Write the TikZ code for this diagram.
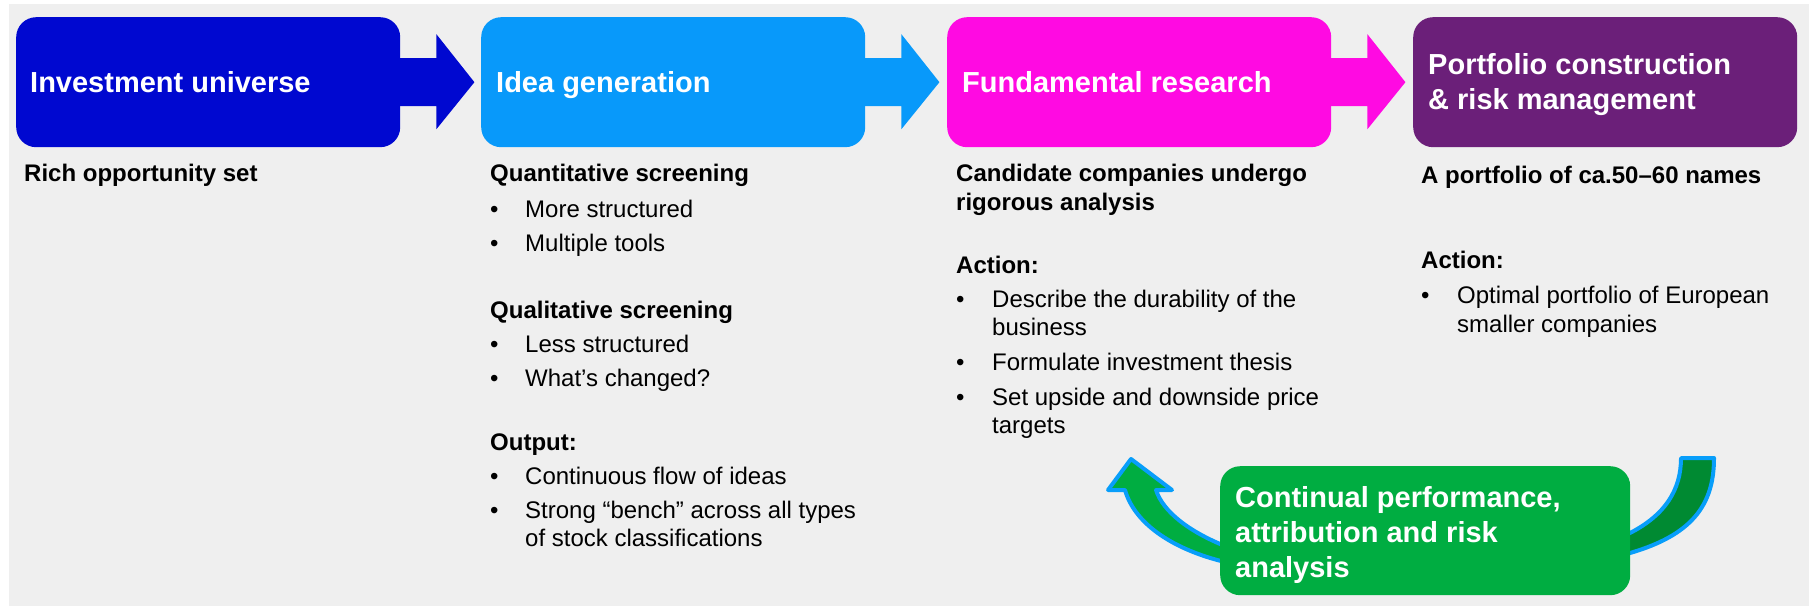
\documentclass[tikz,border=0pt]{standalone}
\usepackage{fontspec}
\setmainfont{Liberation Sans}
\definecolor{bgc}{RGB}{239,239,239}
\definecolor{cone}{RGB}{0,8,208}
\definecolor{ctwo}{RGB}{8,153,250}
\definecolor{cthree}{RGB}{255,10,226}
\definecolor{cfour}{RGB}{107,31,121}
\definecolor{cgreen}{RGB}{0,173,65}
\definecolor{cdgreen}{RGB}{0,138,50}
\definecolor{cblue}{RGB}{8,158,250}
\begin{document}
\begin{tikzpicture}[x=1pt,y=-1pt,
  box/.style={anchor=north west, minimum width=384pt, minimum height=130pt, inner sep=0pt, rounded corners=20pt},
  head/.style={anchor=base west, inner sep=0pt, text=white, font=\bfseries\fontsize{29}{35}\selectfont},
  body/.style={anchor=base west, inner sep=0pt, font=\fontsize{24}{28}\selectfont},
  bodyb/.style={anchor=base west, inner sep=0pt, font=\bfseries\fontsize{24}{28}\selectfont},
  curvearrow/.style={draw=cblue, line width=4pt, line join=round}]
\useasboundingbox (0,0) rectangle (1812,607);
\fill[bgc] (9,4) rectangle (1809,606);

% stage boxes
\node[box, fill=cone] (b1) at (16,17) {};
\node[box, fill=ctwo] (b2) at (481,17) {};
\node[box, fill=cthree] (b3) at (947,17) {};
\node[box, fill=cfour] (b4) at (1413,17) {};

% block arrows
\fill[cone, shift={(b1.east)}] (-5,-24) -- (36,-24) -- (36,-48) -- (74,0) -- (36,47) -- (36,24) -- (-5,24) -- cycle;
\fill[ctwo, shift={(b2.east)}] (-5,-24) -- (36,-24) -- (36,-48) -- (74,0) -- (36,47) -- (36,24) -- (-5,24) -- cycle;
\fill[cthree, shift={(b3.east)}] (-5,-24) -- (36,-24) -- (36,-48) -- (74,0) -- (36,47) -- (36,24) -- (-5,24) -- cycle;

% headings
\node[head] (h1) at (30,93) {Investment universe};
\node[head] (h2) at (496,93) {Idea generation};
\node[head] (h3) at (962,93) {Fundamental research};
\node[head] (h4a) at (1428,75) {Portfolio construction};
\node[head] (h4b) at (1428,110) {\& risk management};

% column 1
\node[bodyb] (c1a) at (24,182) {Rich opportunity set};

% column 2
\node[bodyb] (c2a) at (490,182) {Quantitative screening};
\node[body] (c2b1) at (490,217) {•};
\node[body] (c2t1) at (525,217) {More structured};
\node[body] (c2b2) at (490,251) {•};
\node[body] (c2t2) at (525,251) {Multiple tools};
\node[bodyb] (c2c) at (490,318) {Qualitative screening};
\node[body] (c2b3) at (490,352) {•};
\node[body] (c2t3) at (525,352) {Less structured};
\node[body] (c2b4) at (490,386) {•};
\node[body] (c2t4) at (525,386) {What’s changed?};
\node[bodyb] (c2d) at (490,450) {Output:};
\node[body] (c2b5) at (490,484) {•};
\node[body] (c2t5) at (525,484) {Continuous flow of ideas};
\node[body] (c2b6) at (490,518) {•};
\node[body] (c2t6) at (525,518) {Strong “bench” across all types};
\node[body] (c2t7) at (525,546) {of stock classifications};

% column 3
\node[bodyb] (c3a) at (956,182) {Candidate companies undergo};
\node[bodyb] (c3b) at (956,210) {rigorous analysis};
\node[bodyb] (c3c) at (956,273) {Action:};
\node[body] (c3b1) at (956,307) {•};
\node[body] (c3t1) at (992,307) {Describe the durability of the};
\node[body] (c3t2) at (992,335) {business};
\node[body] (c3b2) at (956,370) {•};
\node[body] (c3t3) at (992,370) {Formulate investment thesis};
\node[body] (c3b3) at (956,405) {•};
\node[body] (c3t4) at (992,405) {Set upside and downside price};
\node[body] (c3t5) at (992,433) {targets};

% column 4
\node[bodyb] (c4a) at (1421,183) {A portfolio of ca.50–60 names};
\node[bodyb] (c4b) at (1421,268) {Action:};
\node[body] (c4b1) at (1421,303) {•};
\node[body] (c4t1) at (1457,303) {Optimal portfolio of European};
\node[body] (c4t2) at (1457,332) {smaller companies};

% curved feedback arrow (behind the green box)
\filldraw[curvearrow, fill=cdgreen] (1681,458) -- (1714,458) .. controls (1714,505) and (1692,535) .. (1630,553) -- (1600,562) -- (1600,540) -- (1630,533) .. controls (1665,515) and (1681,490) .. (1681,458) -- cycle;
\filldraw[curvearrow, fill=cgreen] (1156,490) -- (1172,490) -- (1131,459) -- (1108,490) -- (1125,490) .. controls (1135,525) and (1175,550) .. (1225,562) -- (1250,566) -- (1250,548) -- (1225,546) .. controls (1190,532) and (1163,512) .. (1156,490) -- cycle;

% green box
\node[anchor=north west, minimum width=410pt, minimum height=129pt, inner sep=0pt, rounded corners=20pt, fill=cgreen] (g) at (1220,466) {};
\node[head] (g1) at (1235,507) {Continual performance,};
\node[head] (g2) at (1235,542) {attribution and risk};
\node[head] (g3) at (1235,577) {analysis};
\end{tikzpicture}
\end{document}
